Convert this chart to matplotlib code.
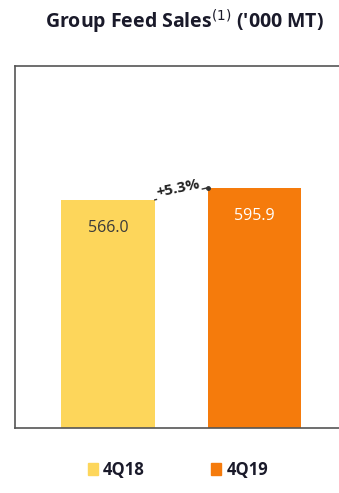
import matplotlib.pyplot as plt
from matplotlib.patches import Patch

periods = ["4Q18", "4Q19"]
sales = [566.0, 595.9]
growth_label = "+5.3%"
bar_colors = ["#FDD65B", "#F57B0C"]
value_colors = ["#3a3a3a", "#FFFFFF"]

plt.rcParams['font.family'] = ['Open Sans', 'DejaVu Sans']

fig = plt.figure(figsize=(3.39, 4.93), dpi=100)
ax = fig.add_axes([0.044, 0.132, 0.956, 0.734])

x = range(len(periods))
w = 0.64
bars = ax.bar(x, sales, width=w, color=bar_colors)

for xi, v, c in zip(x, sales, value_colors):
    ax.text(xi, v - 70, f"{v:.1f}", ha='center', va='center', fontsize=11.5, color=c)

# growth connector between bar tops
x0, x1 = 0 + w / 2, 1 - w / 2
ax.plot([x0, x1], [sales[0], sales[1]], color='#333333', lw=1)
ax.plot([x1], [sales[1]], 'o', color='#333333', ms=2.5)
ax.text((x0 + x1) / 2 - 0.02, (sales[0] + sales[1]) / 2 + 12, growth_label, ha='center', va='center',
        fontsize=11, fontweight='bold', rotation=12, color='#222222',
        bbox=dict(boxstyle='square,pad=0.05', fc='white', ec='none'))

ax.set_xlim(-0.635, 1.577)
ax.set_ylim(0, 898)
ax.set_xticks([])
ax.set_yticks([])
ax.spines['right'].set_visible(False)
for s in ['top', 'left', 'bottom']:
    ax.spines[s].set_color('#555555')
    ax.spines[s].set_linewidth(1.2)

fig.text(0.545, 0.955, "Group Feed Sales$^{\\mathit{(1)}}$ ('000 MT)", ha='center', va='center',
         fontsize=14, fontweight='bold', color='#1a1a2a')

handles = [Patch(color=c, label=p) for c, p in zip(bar_colors, periods)]
leg = fig.legend(handles=handles, loc='center', bbox_to_anchor=(0.525, 0.047), ncol=2,
                 frameon=False, handlelength=0.6, handleheight=0.7, handletextpad=0.3,
                 columnspacing=4.0, prop={'weight': 'bold', 'size': 12})
for t in leg.get_texts():
    t.set_color('#1a1a2a')

fig.savefig('out.png', dpi=100)
